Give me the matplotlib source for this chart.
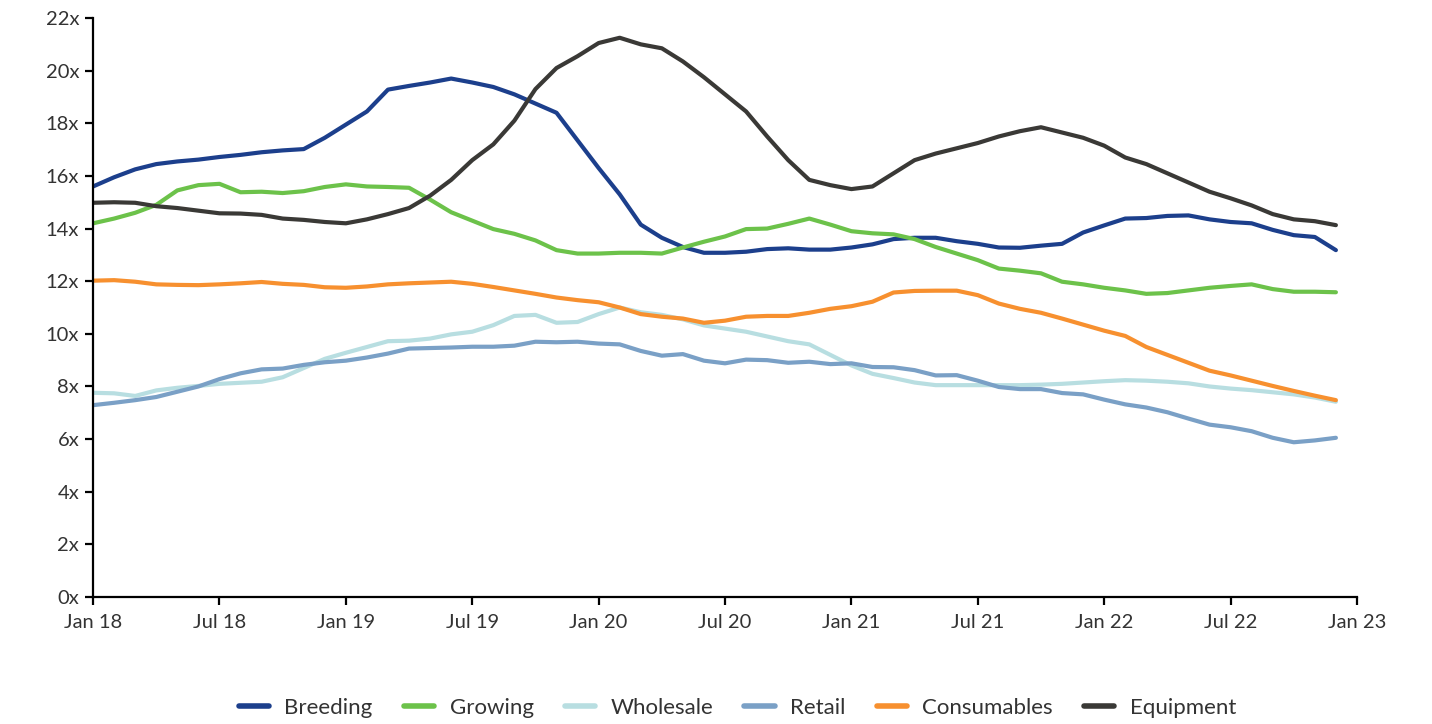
import numpy as np
import matplotlib.pyplot as plt

plt.rcParams['font.family'] = ['Lato', 'DejaVu Sans']

# monthly data, Jan 18 .. Dec 22
breeding = [15.6, 15.95, 16.25, 16.45, 16.55, 16.62, 16.72, 16.8, 16.9, 16.97,
            17.02, 17.45, 17.95, 18.45, 19.28, 19.42, 19.55, 19.7, 19.55, 19.38,
            19.1, 18.75, 18.4, 17.35, 16.3, 15.3, 14.15, 13.65, 13.3, 13.08,
            13.08, 13.12, 13.22, 13.25, 13.2, 13.2, 13.28, 13.4, 13.6, 13.65,
            13.65, 13.52, 13.42, 13.28, 13.27, 13.35, 13.42, 13.85, 14.12, 14.38,
            14.4, 14.48, 14.5, 14.35, 14.25, 14.2, 13.95, 13.75, 13.68, 13.18]
growing = [14.2, 14.38, 14.6, 14.9, 15.45, 15.65, 15.7, 15.38, 15.4, 15.35,
           15.42, 15.58, 15.68, 15.6, 15.58, 15.55, 15.1, 14.62, 14.3, 13.98,
           13.8, 13.55, 13.18, 13.05, 13.05, 13.08, 13.08, 13.05, 13.28, 13.5,
           13.7, 13.98, 14.0, 14.18, 14.38, 14.15, 13.9, 13.82, 13.78, 13.6,
           13.3, 13.05, 12.8, 12.48, 12.4, 12.3, 11.98, 11.88, 11.75, 11.65,
           11.52, 11.55, 11.65, 11.75, 11.82, 11.88, 11.7, 11.6, 11.6, 11.58]
wholesale = [7.76, 7.74, 7.64, 7.85, 7.95, 8.02, 8.1, 8.14, 8.18, 8.35,
             8.7, 9.05, 9.28, 9.5, 9.72, 9.74, 9.82, 9.98, 10.08, 10.33,
             10.68, 10.72, 10.42, 10.45, 10.75, 11.0, 10.82, 10.72, 10.55, 10.32,
             10.2, 10.08, 9.9, 9.72, 9.6, 9.2, 8.8, 8.48, 8.32, 8.15,
             8.05, 8.05, 8.05, 8.05, 8.05, 8.07, 8.1, 8.15, 8.2, 8.24,
             8.22, 8.18, 8.12, 8.0, 7.92, 7.86, 7.78, 7.7, 7.58, 7.42]
retail = [7.29, 7.38, 7.48, 7.6, 7.8, 8.0, 8.28, 8.5, 8.65, 8.68,
          8.82, 8.92, 8.98, 9.1, 9.25, 9.44, 9.46, 9.48, 9.51, 9.51,
          9.55, 9.7, 9.68, 9.7, 9.63, 9.6, 9.35, 9.17, 9.23, 8.98,
          8.88, 9.02, 9.0, 8.9, 8.94, 8.85, 8.88, 8.74, 8.73, 8.62,
          8.42, 8.43, 8.22, 7.98, 7.9, 7.9, 7.75, 7.7, 7.5, 7.32,
          7.2, 7.02, 6.78, 6.55, 6.45, 6.3, 6.05, 5.88, 5.95, 6.05]
consumables = [12.02, 12.04, 11.98, 11.88, 11.86, 11.85, 11.88, 11.92, 11.97, 11.9,
               11.86, 11.77, 11.75, 11.8, 11.88, 11.92, 11.95, 11.98, 11.9, 11.78,
               11.65, 11.52, 11.38, 11.28, 11.2, 11.0, 10.75, 10.65, 10.58, 10.42,
               10.5, 10.65, 10.68, 10.68, 10.8, 10.95, 11.05, 11.22, 11.57, 11.63,
               11.64, 11.64, 11.47, 11.15, 10.95, 10.8, 10.58, 10.35, 10.12, 9.92,
               9.5, 9.2, 8.9, 8.6, 8.42, 8.22, 8.02, 7.83, 7.65, 7.48]
equipment = [14.98, 15.0, 14.98, 14.85, 14.78, 14.68, 14.58, 14.57, 14.52, 14.38,
             14.33, 14.25, 14.2, 14.35, 14.55, 14.78, 15.25, 15.85, 16.6, 17.2,
             18.1, 19.3, 20.1, 20.55, 21.05, 21.25, 21.0, 20.85, 20.35, 19.75,
             19.1, 18.45, 17.5, 16.6, 15.85, 15.65, 15.5, 15.6, 16.1, 16.6,
             16.85, 17.05, 17.25, 17.5, 17.7, 17.85, 17.65, 17.45, 17.15, 16.7,
             16.45, 16.1, 15.75, 15.4, 15.15, 14.88, 14.55, 14.35, 14.28, 14.13]

series = [('Breeding', breeding, '#1c3f8c'),
          ('Growing', growing, '#6cc24a'),
          ('Wholesale', wholesale, '#b8dee1'),
          ('Retail', retail, '#7aa0c6'),
          ('Consumables', consumables, '#f7902f'),
          ('Equipment', equipment, '#3a3936')]

tick_labels = ['Jan 18', 'Jul 18', 'Jan 19', 'Jul 19', 'Jan 20', 'Jul 20',
               'Jan 21', 'Jul 21', 'Jan 22', 'Jul 22', 'Jan 23']

months = np.arange(len(breeding))

fig = plt.figure(figsize=(14.32, 7.24), dpi=100)
ax = fig.add_axes([0.065, 0.1754, 0.8826, 0.7997])

for name, vals, col in series:
    ax.plot(months, vals, color=col, linewidth=3, label=name,
            solid_capstyle='round', solid_joinstyle='round')

ax.set_xlim(0, 60)
ax.set_ylim(0, 22)
ax.set_xticks(np.arange(0, 61, 6))
ax.set_xticklabels(tick_labels)
ax.set_yticks(np.arange(0, 23, 2))
ax.set_yticklabels([f'{v}x' for v in range(0, 23, 2)])

for s in ['top', 'right']:
    ax.spines[s].set_visible(False)
for s in ['left', 'bottom']:
    ax.spines[s].set_linewidth(1.6)
    ax.spines[s].set_color('black')
ax.tick_params(axis='both', length=6, width=1.6, colors='black',
               labelcolor='#333333', labelsize=14.5)
ax.tick_params(axis='x', pad=6)
ax.tick_params(axis='y', pad=4)

leg = fig.legend(loc='center', bbox_to_anchor=(0.515, 0.022), ncol=6,
                 frameon=False, fontsize=16, handlelength=1.36,
                 columnspacing=1.4, handletextpad=0.7, labelcolor='#333333')
for line in leg.get_lines():
    line.set_linewidth(4)
    line.set_solid_capstyle('round')

fig.savefig('out.png', dpi=100)
